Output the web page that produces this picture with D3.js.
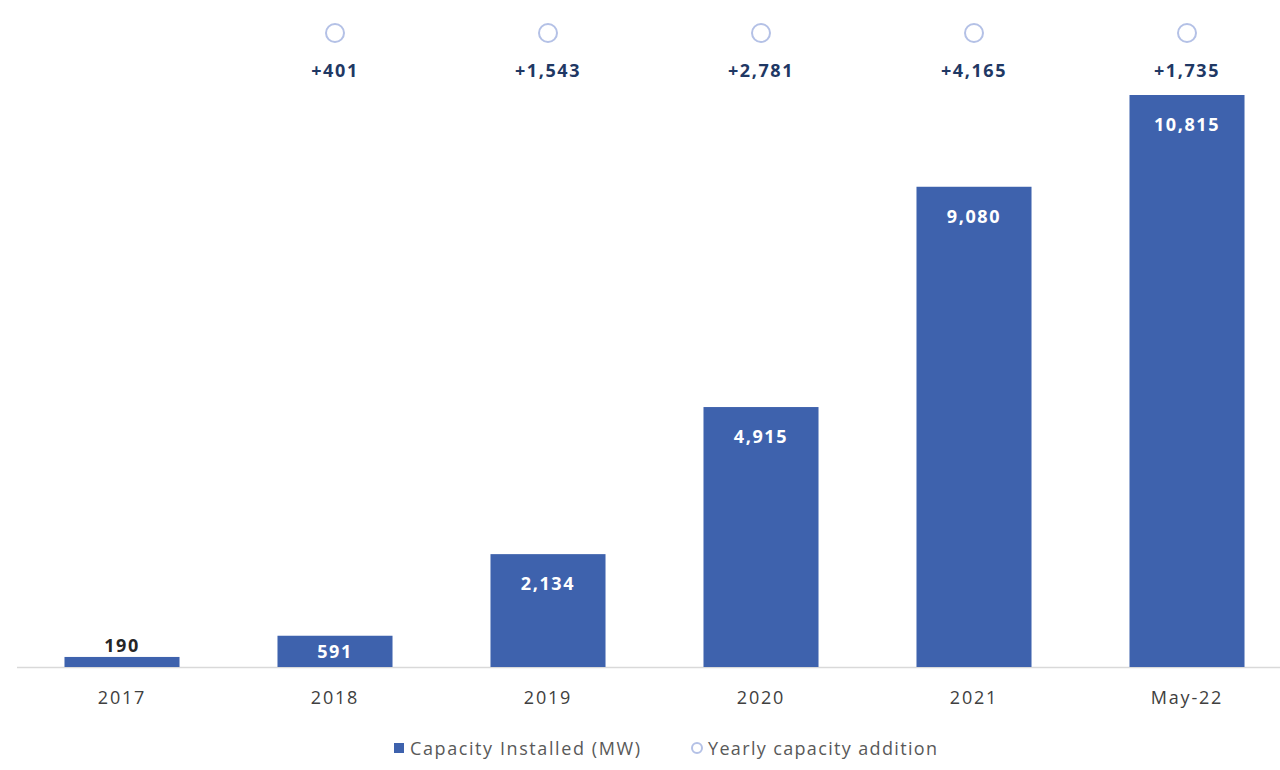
<!DOCTYPE html>
<html><head><meta charset="utf-8">
<script src="https://cdn.jsdelivr.net/npm/d3@7"></script>
<style>body{margin:0;background:#fff}svg{display:block}text{font-family:"Open Sans",sans-serif}</style>
</head><body><svg id="c" width="1280" height="770"></svg>
<script>
const categories = ["2017","2018","2019","2020","2021","May-22"];
const capacity = [190, 591, 2134, 4915, 9080, 10815];
const additions = [null, "+401", "+1,543", "+2,781", "+4,165", "+1,735"];
const legendLabels = ["Capacity Installed (MW)", "Yearly capacity addition"];

const svg = d3.select("#c");
const barColor = "#3e62ad";
const x = d3.scaleBand().domain(categories).range([15.5, 1293.5]).paddingInner(0.46).paddingOuter(0.23);
const y = d3.scaleLinear().domain([0, 10815]).range([667, 95]);

// axis line
svg.append("line").attr("x1", 17).attr("x2", 1280).attr("y1", y(0)+0.5).attr("y2", y(0)+0.5)
  .attr("stroke", "#d9d9d9").attr("stroke-width", 1.5);

svg.selectAll("rect.bar").data(capacity).join("rect").attr("class","bar")
  .attr("x", (d,i)=>x(categories[i])).attr("width", x.bandwidth())
  .attr("y", d=>y(d)).attr("height", d=>y(0)-y(d)).attr("fill", barColor);

// value labels
const small = d => (y(0)-y(d)) < 20;
svg.selectAll("text.val").data(capacity).join("text").attr("class","val")
  .attr("x", (d,i)=>x(categories[i])+x.bandwidth()/2)
  .attr("y", d=> small(d) ? y(d)-5 : ((y(0)-y(d)) < 40 ? (y(d)+y(0))/2 + 7 : y(d)+36))
  .attr("text-anchor","middle").attr("font-size",18).attr("font-weight","bold")
  .attr("letter-spacing", 1.6)
  .attr("fill", d=> small(d) ? "#262626" : "#ffffff")
  .text(d=>d3.format(",")(d));

// category labels
svg.selectAll("text.cat").data(categories).join("text").attr("class","cat")
  .attr("x", d=>x(d)+x.bandwidth()/2).attr("y", 704)
  .attr("text-anchor","middle").attr("font-size",18).attr("letter-spacing", 1.8)
  .attr("font-weight", 500).attr("fill","#404040").text(d=>d);

// addition markers
const addData = additions.map((a,i)=>({a, c:categories[i]})).filter(d=>d.a);
svg.selectAll("circle.add").data(addData).join("circle").attr("class","add")
  .attr("cx", d=>x(d.c)+x.bandwidth()/2).attr("cy", 33).attr("r", 9)
  .attr("fill","none").attr("stroke","#b4c1e6").attr("stroke-width",2);
svg.selectAll("text.add").data(addData).join("text").attr("class","add")
  .attr("x", d=>x(d.c)+x.bandwidth()/2).attr("y", 77)
  .attr("text-anchor","middle").attr("font-size",18).attr("font-weight","bold")
  .attr("letter-spacing", 1.6)
  .attr("fill","#1f3864").text(d=>d.a);

// legend
const lg = svg.append("g");
lg.append("rect").attr("x", 394).attr("y", 743).attr("width", 10).attr("height", 10).attr("fill", barColor);
lg.append("text").attr("x", 410).attr("y", 755).attr("font-size",18).attr("font-weight",500)
  .attr("textLength", 230).attr("lengthAdjust","spacing").attr("fill","#595959").text(legendLabels[0]);
lg.append("circle").attr("cx", 697).attr("cy", 748).attr("r", 5).attr("fill","none").attr("stroke","#b4c1e6").attr("stroke-width",2);
lg.append("text").attr("x", 708).attr("y", 755).attr("font-size",18).attr("font-weight",500)
  .attr("textLength", 229).attr("lengthAdjust","spacing").attr("fill","#595959").text(legendLabels[1]);
</script></body></html>
